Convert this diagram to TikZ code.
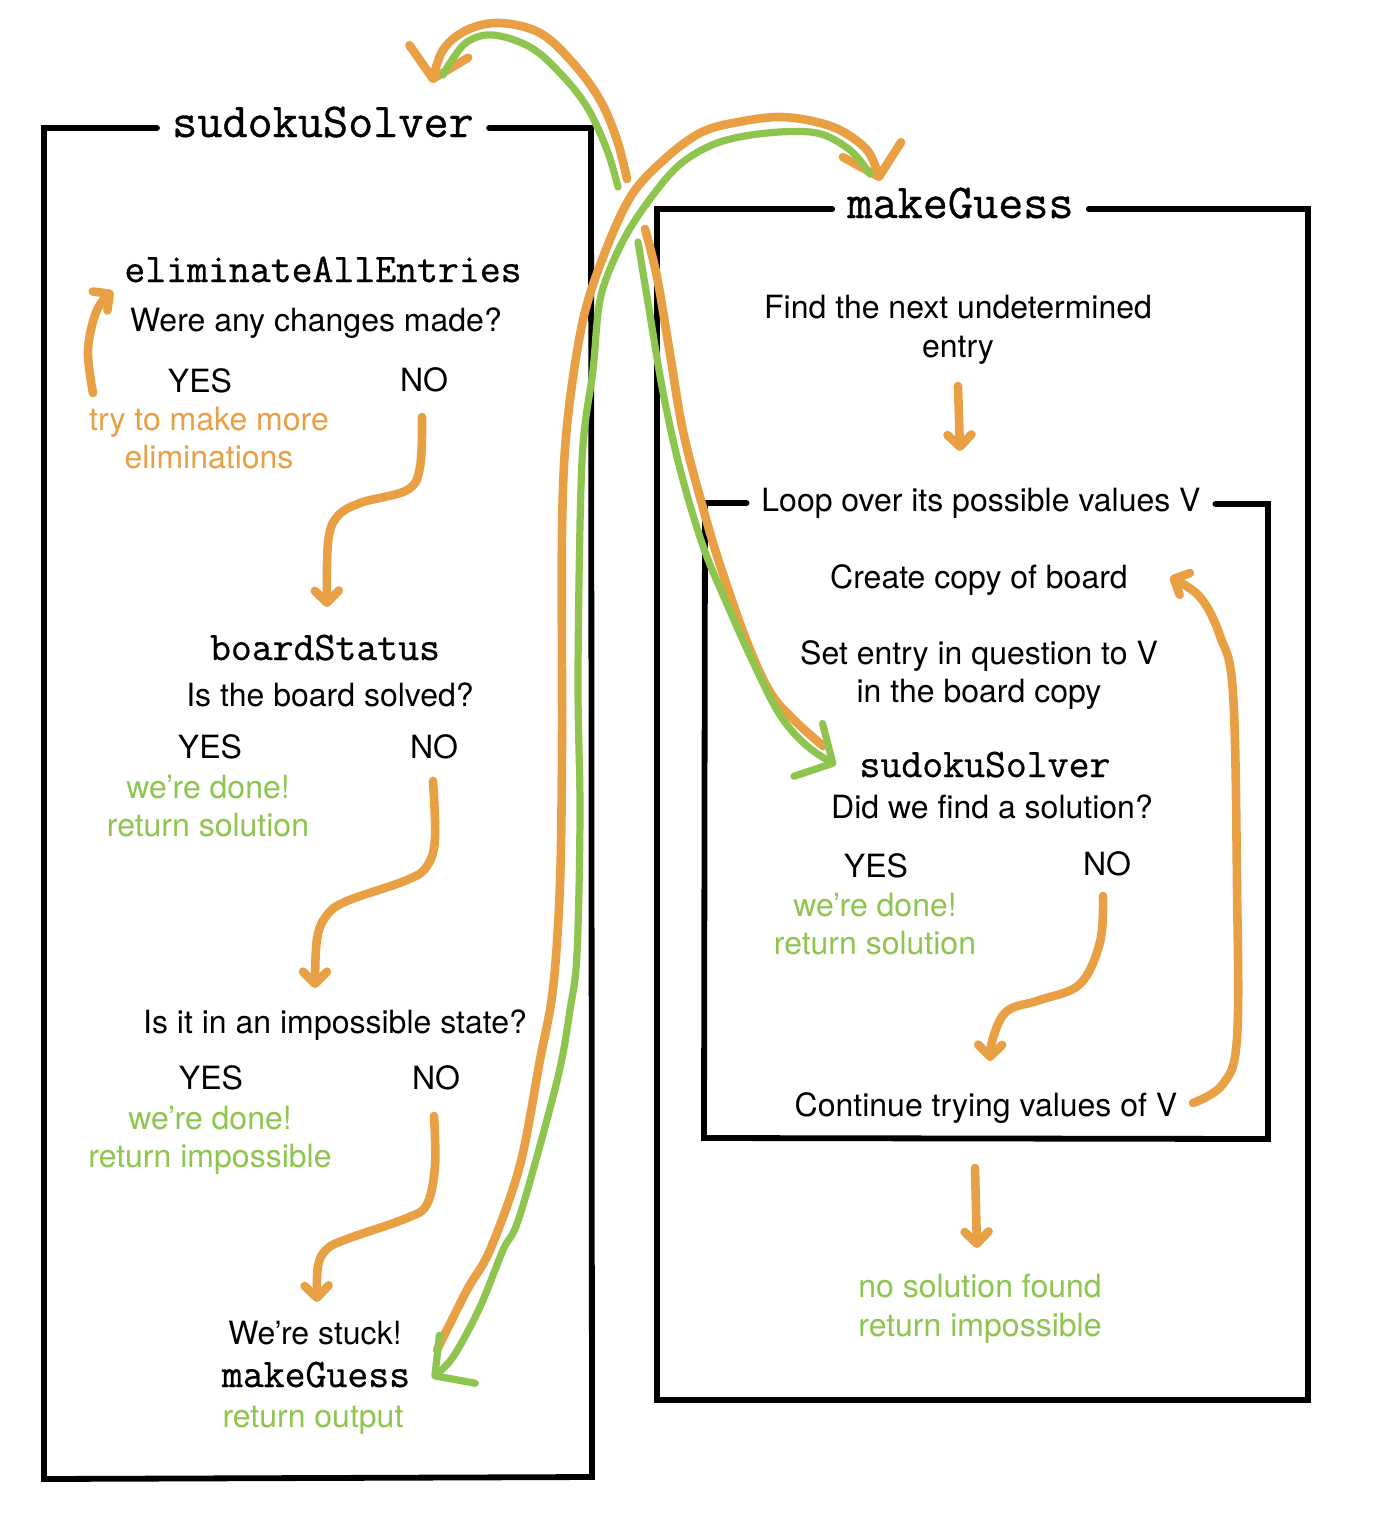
\documentclass[tikz,border=0pt]{standalone}
\usepackage{fontspec}
\setmainfont{TeX Gyre Heros}
\newfontfamily\codefont{Latin Modern Mono}[BoldFont={Latin Modern Mono}, BoldFeatures={FakeBold=0.7}]
\usetikzlibrary{arrows.meta}
\definecolor{orng}{RGB}{233,160,68}
\definecolor{grn}{RGB}{141,197,79}
\tikzset{
  txt/.style={font=\fontsize{16}{19.5}\selectfont, inner sep=0pt, anchor=base},
  otxt/.style={txt, text=orng},
  gtxt/.style={txt, text=grn},
  code/.style={font=\fontsize{20.3}{24}\codefont\bfseries, inner sep=0pt, anchor=base},
  ttl/.style={font=\fontsize{24.4}{28}\codefont\bfseries, inner xsep=7.4pt, inner ysep=0pt, anchor=base},
  looptl/.style={txt, inner xsep=7.2pt},
  frame/.style={draw=black, line width=2.9pt, line cap=round, line join=miter},
  oline/.style={draw=orng, line width=4.3pt, line cap=round, line join=round},
  gline/.style={draw=grn, line width=3.6pt, line cap=round, line join=round},
  shead/.style={-{Straight Barb[length=6pt,width=12pt,round]}},
  bhead/.style={-{Straight Barb[length=14pt,width=30pt,round]}},
}
\begin{document}
\begin{tikzpicture}[x=0.5pt,y=-0.5pt]
\fill[white] (0,0) rectangle (1373,1537);
\useasboundingbox (0,0) rectangle (1373,1537);

% ---------- left box texts ----------
\node[ttl]  (t1)    at (323,137)  {sudokuSolver};
\node[code] (elim)  at (323,282)  {eliminateAllEntries};
\node[txt]  (q1)    at (316,331)  {Were any changes made?};
\node[txt]  (yes1)  at (200,392)  {YES};
\node[txt]  (no1)   at (424,391)  {NO};
\node[otxt] (try)   at (209,430)  {try to make more};
\node[otxt] (elims) at (209,468)  {eliminations};
\node[code] (bs)    at (325,660)  {boardStatus};
\node[txt]  (q2)    at (330,706)  {Is the board solved?};
\node[txt]  (yes2)  at (210,758)  {YES};
\node[txt]  (no2)   at (434,758)  {NO};
\node[gtxt] (done2) at (208,798)  {we’re done!};
\node[gtxt] (ret2)  at (208,836)  {return solution};
\node[txt]  (q3)    at (335,1033) {Is it in an impossible state?};
\node[txt]  (yes3)  at (211,1089) {YES};
\node[txt]  (no3)   at (436,1089) {NO};
\node[gtxt] (done3) at (210,1129) {we’re done!};
\node[gtxt] (ret3)  at (210,1167) {return impossible};
\node[txt]  (stuck) at (315,1344) {We’re stuck!};
\node[code] (mg)    at (316,1387) {makeGuess};
\node[gtxt] (out)   at (313,1427) {return output};

% ---------- right box texts ----------
\node[ttl]    (t2)    at (960.5,218) {makeGuess};
\node[txt]    (find)  at (958,318)  {Find the next undetermined};
\node[txt]    (entry) at (958,357)  {entry};
\node[looptl] (loop)  at (981,511)  {Loop over its possible values V};
\node[txt]    (copy)  at (979,588)  {Create copy of board};
\node[txt]    (set)   at (979,664)  {Set entry in question to V};
\node[txt]    (inb)   at (979,702)  {in the board copy};
\node[code]   (ss)    at (985,777)  {sudokuSolver};
\node[txt]    (q4)    at (992,818)  {Did we find a solution?};
\node[txt]    (yes4)  at (876,877)  {YES};
\node[txt]    (no4)   at (1107,875) {NO};
\node[gtxt]   (done4) at (875,916)  {we’re done!};
\node[gtxt]   (ret4)  at (875,954)  {return solution};
\node[txt]    (cont)  at (986,1116) {Continue trying values of V};
\node[gtxt]   (nsf)   at (980,1297) {no solution found};
\node[gtxt]   (ret5)  at (980,1336) {return impossible};

% ---------- frames ----------
\coordinate (L1) at (44,128);
\coordinate (L2) at (44,1479);
\coordinate (L3) at (592,1477);
\coordinate (L4) at (591,128);
\draw[frame] (t1.west |- L1) -- (L1) -- (L2) -- (L3) -- (L4) -- (t1.east |- L4);

\coordinate (R1) at (657,209);
\coordinate (R2) at (657,1400);
\coordinate (R3) at (1308,1400);
\coordinate (R4) at (1308,209);
\draw[frame] (t2.west |- R1) -- (R1) -- (R2) -- (R3) -- (R4) -- (t2.east |- R4);

\coordinate (I1) at (705,503);
\coordinate (I2) at (704,1138);
\coordinate (I3) at (1268,1139);
\coordinate (I4) at (1268,504);
\draw[frame] (loop.west |- I1) -- (I1) -- (I2) -- (I3) -- (I4) -- (loop.east |- I4);

% ---------- small orange arrows ----------
\coordinate (e1) at (93,393);   \coordinate (e2) at (113,291);
\draw[oline,shead] plot[smooth,tension=0.6] coordinates {(e1) (88,350) (97,310) (e2)};

\coordinate (f1) at (422,417);  \coordinate (f2) at (327,607);
\draw[oline,shead] plot[smooth,tension=0.6] coordinates {(f1) (420,467) (407,490) (360,503) (337,517) (328,543) (f2)};

\coordinate (g1) at (433,781);  \coordinate (g2) at (315,988);
\draw[oline,shead] plot[smooth,tension=0.6] coordinates {(g1) (435,839) (427,866) (407,880) (347,901) (327,915) (317,939) (g2)};

\coordinate (h1) at (434,1116); \coordinate (h2) at (317,1302);
\draw[oline,shead] plot[smooth,tension=0.6] coordinates {(h1) (435,1166) (427,1204) (407,1218) (347,1239) (327,1249) (318,1266) (h2)};

\coordinate (i1) at (958,386);  \coordinate (i2) at (960,451);
\draw[oline,shead] (i1) -- (i2);

\coordinate (j1) at (1103,896); \coordinate (j2) at (990,1061);
\draw[oline,shead] plot[smooth,tension=0.6] coordinates {(j1) (1100,942) (1080,984) (1040,1000) (1007,1011) (993,1038) (j2)};

\coordinate (k1) at (1193,1103); \coordinate (k2) at (1170,577);
\draw[oline,shead] plot[smooth,tension=0.6] coordinates {(k1) (1223,1084) (1237,1038) (1237,885) (1233,693) (1220,636) (1200,597) (k2)};

\coordinate (l1) at (975,1168); \coordinate (l2) at (977,1248);
\draw[oline,shead] (l1) -- (l2);

% ---------- big call / return arrows ----------
% top-left pair
\coordinate (c1) at (627,179);  \coordinate (c2) at (432,83);
\draw[oline,bhead] plot[smooth,tension=0.6] coordinates {(c1) (617,140) (600,100) (573,63) (540,33) (500,23) (467,30) (443,50) (c2)};
\coordinate (c3) at (618,187);  \coordinate (c4) at (443,75);
\draw[gline] plot[smooth,tension=0.6] coordinates {(c3) (607,150) (587,107) (560,73) (530,47) (493,35) (467,42) (450,63) (c4)};

% long pair between the boxes
\coordinate (a1) at (437,1350); \coordinate (a2) at (880,181);
\draw[oline,bhead] plot[smooth,tension=0.55] coordinates {(a1) (467,1290) (490,1250) (520,1165) (540,1060) (553,989) (560,884) (562,743) (562,532) (567,426) (583,320) (607,247) (633,193) (667,157) (700,133) (733,123) (783,117) (833,127) (867,150) (a2)};
\coordinate (b1) at (870,174);  \coordinate (b2) at (432,1378);
\draw[gline,bhead] plot[smooth,tension=0.55] coordinates {(b1) (850,150) (817,133) (767,133) (717,143) (677,167) (640,213) (617,253) (600,300) (593,370) (582,461) (578,673) (580,813) (577,954) (570,1010) (557,1081) (520,1215) (503,1250) (480,1307) (453,1357) (b2)};

% pair into the inner sudokuSolver call
\coordinate (d1) at (645,229);  \coordinate (d2) at (823,746);
\draw[oline] plot[smooth,tension=0.6] coordinates {(d1) (657,277) (670,354) (683,431) (703,508) (720,565) (747,642) (770,692) (793,719) (d2)};
\coordinate (d3) at (638,242);  \coordinate (d4) at (836,765);
\draw[gline,bhead] plot[smooth,tension=0.6] coordinates {(d3) (650,315) (663,392) (680,469) (703,546) (727,604) (753,662) (780,715) (807,746) (d4)};
\end{tikzpicture}
\end{document}
